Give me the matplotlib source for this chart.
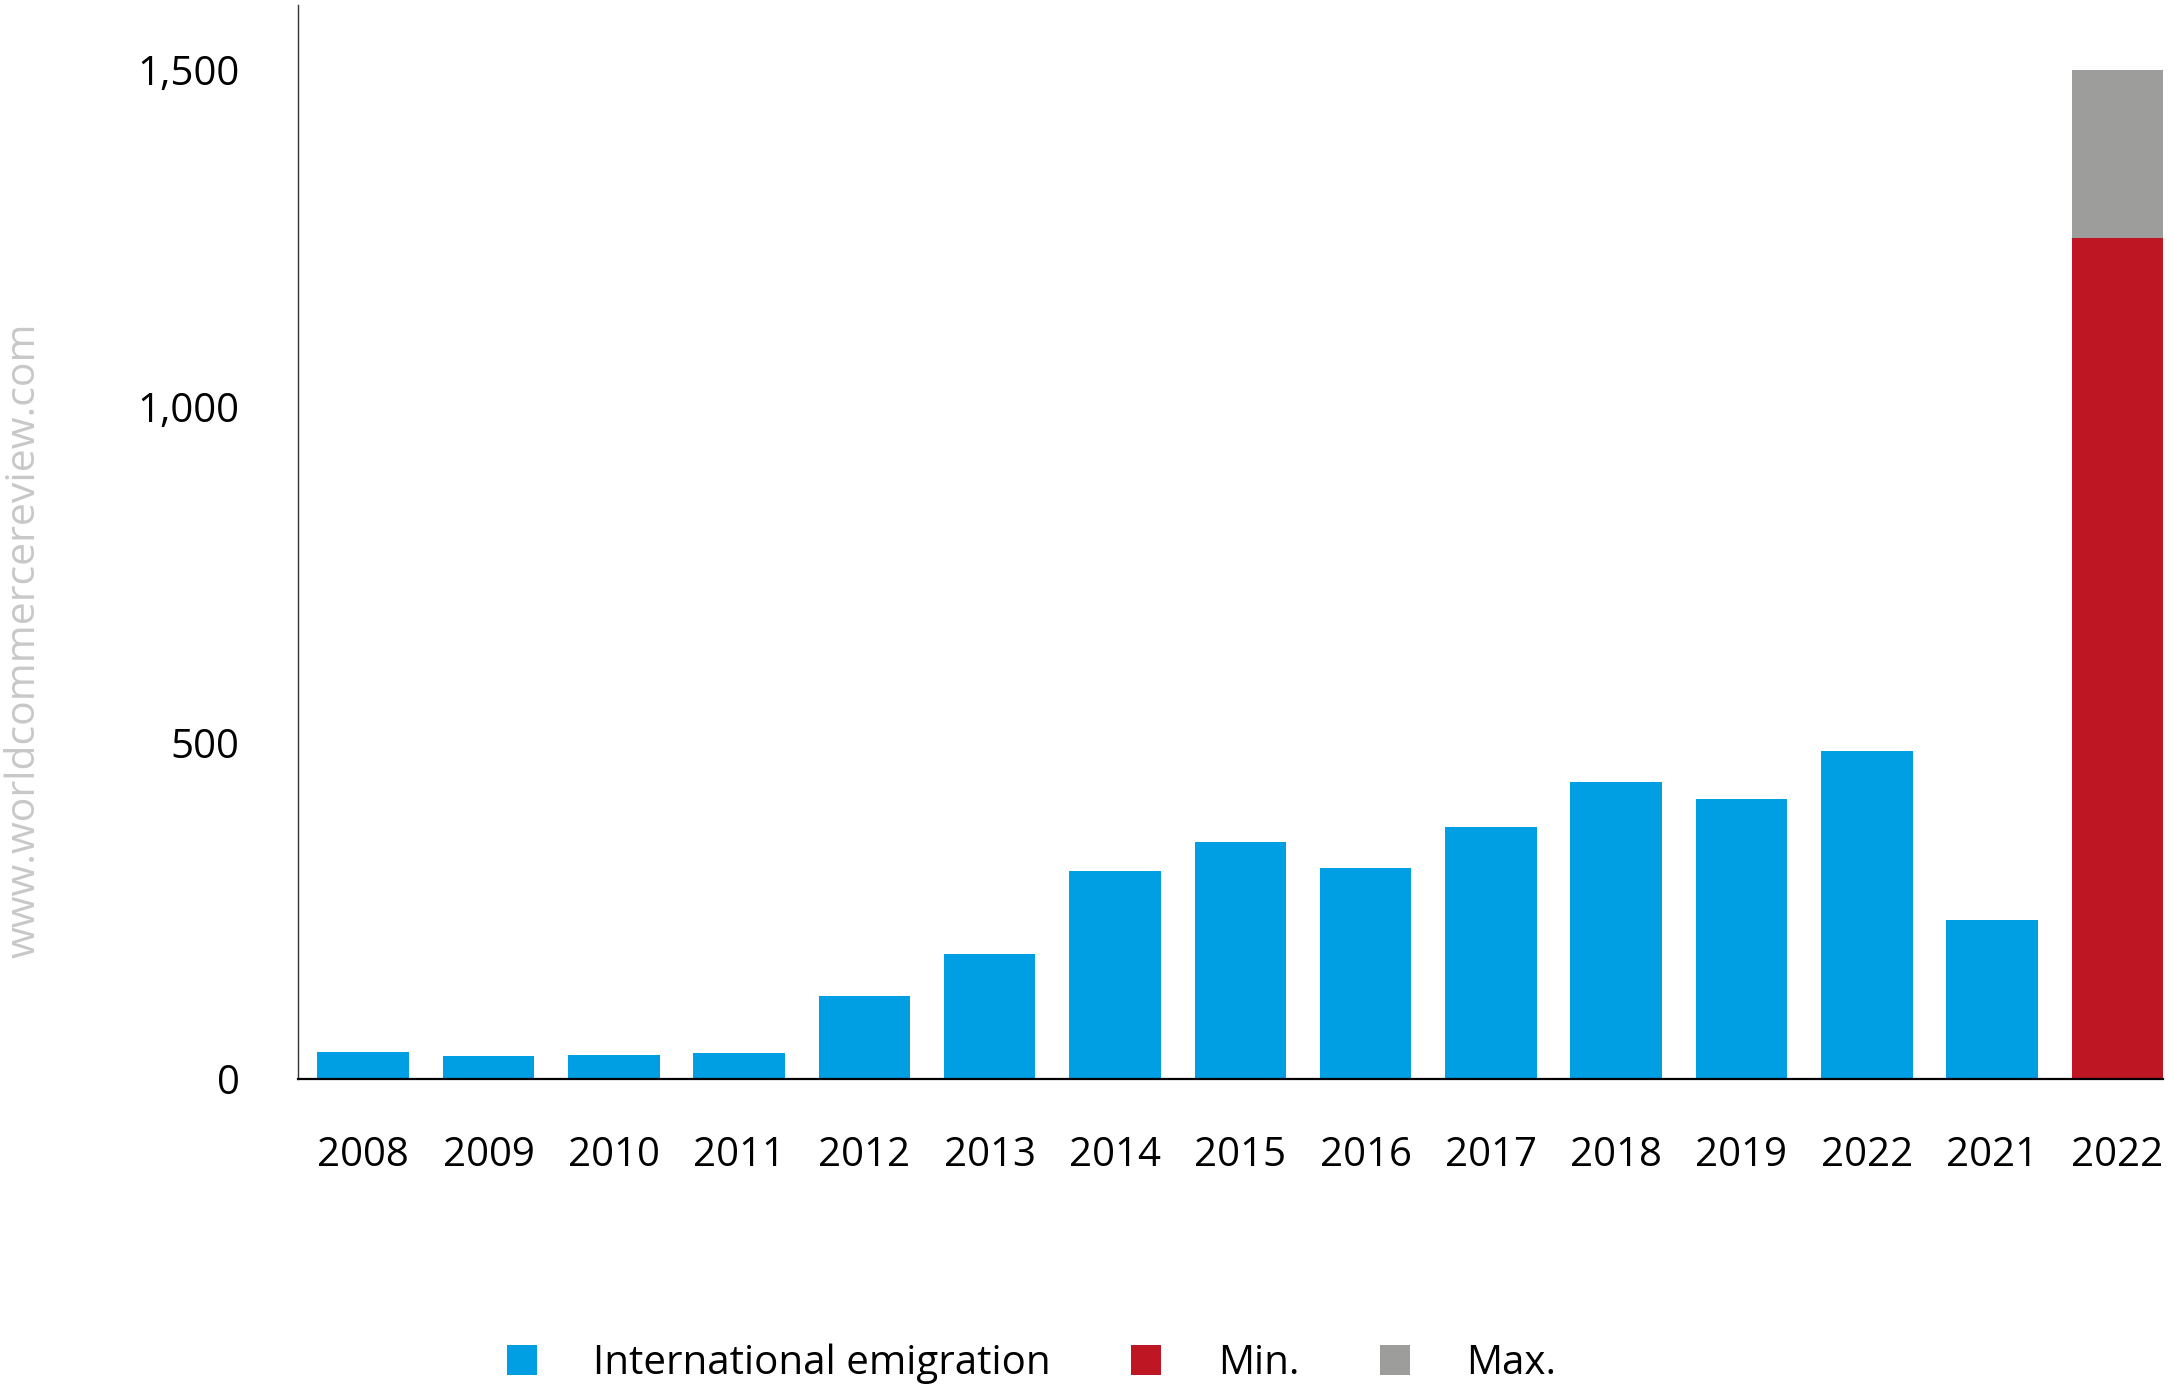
"""
International emigration by year, with the 2022 estimate shown as a min/max range
"""

import numpy as np
import matplotlib
matplotlib.use("Agg")
import matplotlib.pyplot as plt
from matplotlib.patches import Patch

plt.rcParams["font.family"] = ["Open Sans", "DejaVu Sans"]

YEARS = ["2008", "2009", "2010", "2011", "2012", "2013", "2014",
         "2015", "2016", "2017", "2018", "2019", "2022", "2021", "2022"]
EMIGRATION = [40, 34, 35, 38, 123, 186, 310, 352, 314, 375, 441, 417, 488, 237]
EST_MIN = 1250
EST_MAX = 1500

BLUE = "#009fe3"
RED = "#be1622"
GREY = "#9d9d9c"


def plot_emigration() -> None:
    fig = plt.figure(figsize=(21.74, 13.88), dpi=100)
    ax = fig.add_axes([0.1371, 0.2226, 0.995 - 0.1371, 0.9964 - 0.2226])

    x = np.arange(len(YEARS))
    width = 0.73
    ax.bar(x[:-1], EMIGRATION, width=width, color=BLUE)
    ax.bar(x[-1], EST_MIN, width=width, color=RED)
    ax.bar(x[-1], EST_MAX - EST_MIN, bottom=EST_MIN, width=width, color=GREY)

    ax.set_xlim(-0.52, len(YEARS) - 1 + 0.365)
    ax.set_ylim(0, 1597)

    ax.set_xticks(x)
    ax.set_xticklabels(YEARS)
    ax.set_yticks([0, 500, 1000, 1500])
    ax.set_yticklabels(["0", "500", "1,000", "1,500"])
    ax.tick_params(axis="x", length=0, pad=41, labelsize=29)
    ax.tick_params(axis="y", length=0, pad=42, labelsize=29)

    for side in ("top", "right"):
        ax.spines[side].set_visible(False)
    ax.spines["bottom"].set_linewidth(1.6)
    ax.spines["left"].set_linewidth(1.0)
    ax.spines["left"].set_color("#333333")

    handles = [Patch(facecolor=BLUE, label="International emigration"),
               Patch(facecolor=RED, label="Min."),
               Patch(facecolor=GREY, label="Max.")]
    fig.legend(handles=handles, loc="center", bbox_to_anchor=(0.4745, 0.0175),
               ncol=3, frameon=False, fontsize=29, handlelength=0.74,
               handleheight=0.74, handletextpad=1.4, columnspacing=2.0)

    fig.text(0.011, 0.539, "www.worldcommercereview.com", rotation=90,
             ha="center", va="center", fontsize=29.5, color="#c8c8c8")

    fig.savefig("out.png", dpi=100)


if __name__ == "__main__":
    plot_emigration()
